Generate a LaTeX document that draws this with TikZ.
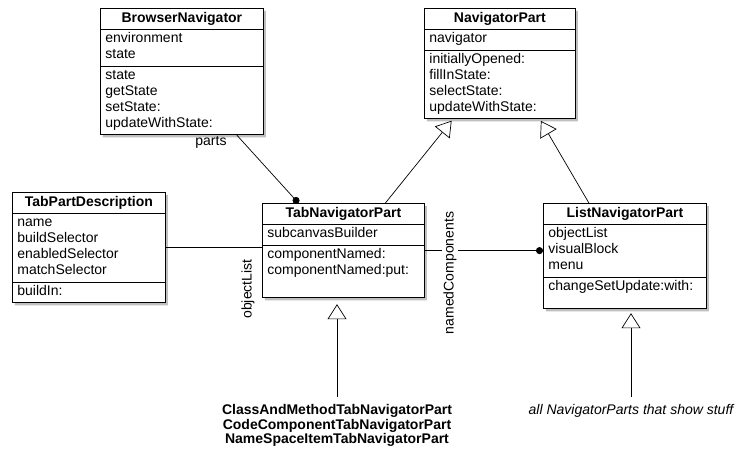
\documentclass[tikz,border=0pt]{standalone}
\usepackage{fontspec}
\setmainfont{Liberation Sans}
\usetikzlibrary{arrows.meta,shapes.multipart,shadows}

\begin{document}
\begin{tikzpicture}[x=1pt,y=-1pt,
    font=\fontsize{14}{16}\selectfont,
    umlclass/.style={rectangle split, rectangle split parts=3, draw, fill=white,
      line width=.8pt, text width=#1, align=left, inner xsep=5pt, inner ysep=2pt,
      anchor=north west,
      drop shadow={shadow xshift=2.5pt, shadow yshift=-2.5pt, opacity=.5}},
    inherit/.style={draw, line width=.7pt, -{Triangle[open,length=15pt,width=19pt]}},
    assoc/.style={draw, line width=.7pt, -{Circle[length=7pt]}},
    role/.style={inner sep=1pt},
    subs/.style={anchor=north, align=center, font=\fontsize{14}{14.5}\selectfont\bfseries}]
  \path[use as bounding box, fill=white] (0,0) rectangle (740,456);

  \node[umlclass=153pt] (bn) at (100,8)
    {\makebox[\hsize]{\strut\textbf{BrowserNavigator}}
     \nodepart{two}\strut environment\\state\strut
     \nodepart{three}\strut state\\getState\\setState:\\updateWithState:\strut};
  \node[umlclass=141pt] (np) at (424,8)
    {\makebox[\hsize]{\strut\textbf{NavigatorPart}}
     \nodepart{two}\strut navigator\strut
     \nodepart{three}\strut initiallyOpened:\\fillInState:\\selectState:\\updateWithState:\strut};
  \node[umlclass=143pt] (tpd) at (12,192)
    {\makebox[\hsize]{\strut\textbf{TabPartDescription}}
     \nodepart{two}\strut name\\buildSelector\\enabledSelector\\matchSelector\strut
     \nodepart{three}\strut buildIn:\strut};
  \node[umlclass=152pt] (tnp) at (262,203)
    {\makebox[\hsize]{\strut\textbf{TabNavigatorPart}}
     \nodepart{two}\strut subcanvasBuilder\strut
     \nodepart{three}\strut componentNamed:\\componentNamed:put:\\\strut};
  \node[umlclass=153pt] (lnp) at (543,203)
    {\makebox[\hsize]{\strut\textbf{ListNavigatorPart}}
     \nodepart{two}\strut objectList\\visualBlock\\menu\strut
     \nodepart{three}\strut changeSetUpdate:with:\\[-5pt]\strut};

  \node[subs] (tabsubs) at (337,401)
    {ClassAndMethodTabNavigatorPart\\CodeComponentTabNavigatorPart\\NameSpaceItemTabNavigatorPart};
  \node[anchor=north, font=\fontsize{14}{16}\selectfont\itshape] (listsubs) at (631,401)
    {all NavigatorParts that show stuff};

  \draw[assoc] ([xshift=55pt]bn.south) -- ([xshift=-45pt]tnp.north)
    node[role, at start, anchor=north east, xshift=-9pt] (partslbl) {parts};
  \draw[line width=.7pt] (tpd.east) -- (tpd.east -| tnp.west);
  \node[role, rotate=90] (objlbl) at (248,289) {objectList};
  \draw[assoc] (tnp.east) -- (tnp.east -| lnp.west);
  \node[role, rotate=90, fill=white] (namedlbl) at (450,273) {namedComponents};

  \draw[inherit, shorten >=2pt] ([xshift=42pt]tnp.north) -- ([xshift=-47pt]np.south);
  \draw[inherit, shorten >=2pt] ([xshift=-36pt]lnp.north) -- ([xshift=40pt]np.south);
  \draw[inherit, shorten >=6pt, shorten <=4pt] (tabsubs.north) -- (tabsubs.north |- tnp.south);
  \draw[inherit, shorten >=4pt, shorten <=4pt] (listsubs.north) -- (listsubs.north |- lnp.south);
\end{tikzpicture}
\end{document}
